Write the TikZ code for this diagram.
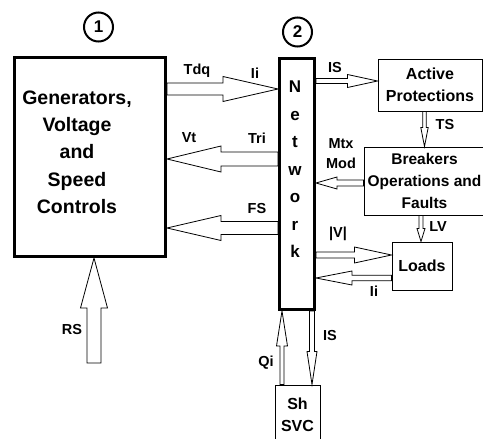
\documentclass[tikz,border=0pt]{standalone}
\usepackage{fontspec}
\setmainfont{Liberation Sans}
\usetikzlibrary{calc}

% hollow block arrow: tail, tip, half shaft, half head, head length
\newcommand{\harrow}[5]{%
  \path ($(#2)!#5!(#1)$) coordinate (hb);
  \draw ($(#1)!#3!90:(#2)$) -- ($(hb)!#3!90:(#2)$) -- ($(hb)!#4!90:(#2)$) -- (#2)
    -- ($(hb)!#4!-90:(#2)$) -- ($(hb)!#3!-90:(#2)$) -- ($(#1)!#3!-90:(#2)$) -- cycle;
}

\begin{document}
\begin{tikzpicture}[x=1pt, y=-1pt, line width=0.8pt,
  thickbox/.style={draw, line width=3pt, inner sep=0pt},
  box/.style={draw, line width=1pt, inner sep=0pt, align=center, font=\fontsize{16}{22}\selectfont\bfseries},
  num/.style={draw, circle, line width=2pt, minimum size=29pt, inner sep=0pt, font=\fontsize{17}{17}\selectfont\bfseries},
  lbl/.style={font=\fontsize{14.5}{14.5}\selectfont\bfseries}]

\useasboundingbox (0,0) rectangle (483,439);

% blocks
\node[thickbox, minimum width=151, minimum height=199] (gen) at (90,157) {};
\node[align=center, font=\fontsize{19.5}{27.3}\selectfont\bfseries] (gentxt) at (77,152) {Generators,\\Voltage\\and\\Speed\\Controls};
\node[num] (n1) at (98.5,27) {1};

\node[thickbox, minimum width=35, minimum height=251] (net) at (297,184) {};
\node[align=center, font=\fontsize{17}{27.5}\selectfont\bfseries] (nettxt) at (295,169.5) {N\\e\\t\\w\\o\\r\\k};
\node[num] (n2) at (297.5,32) {2};

\node[box, minimum width=104, minimum height=52] (ap) at (430,85) {Active\\Protections};
\node[box, minimum width=121, minimum height=68, font=\fontsize{15.5}{22}\selectfont\bfseries] (brk) at (424.5,181) {Breakers\\Operations and\\Faults};
\node[box, minimum width=60, minimum height=48] (loads) at (422,266) {Loads};
\node[box, minimum width=45, minimum height=60] (svc) at (297.5,415) {Sh\\SVC};

% arrow levels
\coordinate (tdq) at (0,89);
\coordinate (tri) at (0,159);
\coordinate (fs) at (0,228);
\coordinate (is) at (0,81);
\coordinate (mtx) at (0,183);
\coordinate (vv) at (0,255);
\coordinate (ii) at (0,278);
\coordinate (rs) at (94,363);
\coordinate (ts) at (424.5,0);
\coordinate (lv) at (421,0);
\coordinate (qi) at (282,0);
\coordinate (isd) at (312,0);

% Generators <-> Network
\harrow{gen.east |- tdq}{net.west |- tdq}{6pt}{12.5pt}{55pt}
\harrow{net.west |- tri}{gen.east |- tri}{7pt}{13pt}{54pt}
\harrow{net.west |- fs}{gen.east |- fs}{6.5pt}{12.5pt}{54pt}
\harrow{rs}{gen.south -| rs}{7pt}{13.5pt}{50pt}

% Network <-> right side
\harrow{net.east |- is}{ap.west |- is}{2.5pt}{6.5pt}{30pt}
\harrow{ap.south -| ts}{brk.north -| ts}{1.7pt}{3.7pt}{19pt}
\harrow{brk.west |- mtx}{net.east |- mtx}{3pt}{6pt}{21pt}
\harrow{brk.south -| lv}{loads.north -| lv}{2pt}{4pt}{13pt}
\harrow{net.east |- vv}{loads.west |- vv}{3pt}{8pt}{37pt}
\harrow{loads.west |- ii}{net.east |- ii}{2.7pt}{7pt}{36pt}

% Network <-> SVC
\harrow{svc.north -| qi}{net.south -| qi}{2pt}{5.5pt}{35pt}
\harrow{net.south -| isd}{svc.north -| isd}{2.5pt}{5pt}{33pt}

% labels
\node[lbl] (l-tdq) at (197,71) {Tdq};
\node[lbl] (l-ii) at (255,73) {Ii};
\node[lbl] (l-vt) at (189,138) {Vt};
\node[lbl] (l-tri) at (257,138) {Tri};
\node[lbl] (l-fs) at (257,209) {FS};
\node[lbl] (l-rs) at (72,330) {RS};
\node[lbl] (l-is) at (335,68) {IS};
\node[lbl] (l-ts) at (445,125) {TS};
\node[lbl, align=center, font=\fontsize{14.5}{20}\selectfont\bfseries] (l-mtx) at (341,154) {Mtx\\Mod};
\node[lbl] (l-lv) at (438,227) {LV};
\node[lbl] (l-v) at (338,234) {|V|};
\node[lbl] (l-ii2) at (374,291) {Ii};
\node[lbl] (l-is2) at (330,336) {IS};
\node[lbl] (l-qi) at (266,363) {Qi};

\end{tikzpicture}
\end{document}
